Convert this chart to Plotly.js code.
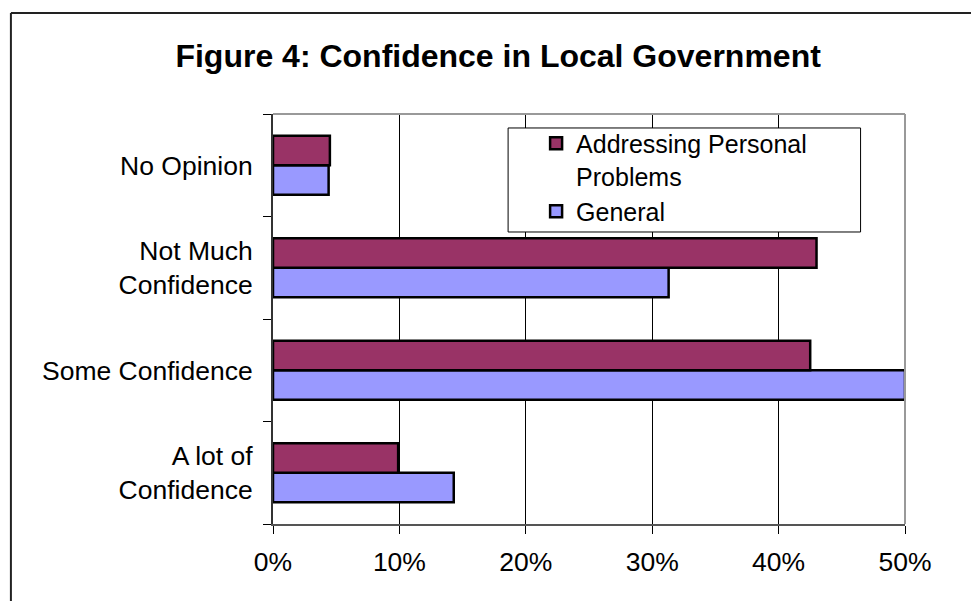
<!DOCTYPE html>
<html>
<head>
<meta charset="utf-8">
<script src="https://cdn.plot.ly/plotly-3.0.1.min.js"></script>
<style>html,body{margin:0;padding:0;background:#fff;}#chart{width:971px;height:601px;}</style>
</head>
<body>
<div id="chart"></div>
<script>
// Categories, bottom to top
var categories = ["A lot of<br>Confidence", "Some Confidence", "Not Much<br>Confidence", "No Opinion"];
// Percent values
var personalProblems = [9.9, 42.5, 43.0, 4.5];
var general = [14.3, 50.0, 31.3, 4.4];
var xTickVals = [0, 10, 20, 30, 40, 50];
var xTickText = ["0%", "10%", "20%", "30%", "40%", "50%"];
var seriesNames = ["Addressing Personal<br>Problems", "General"];

var FONT = "Liberation Sans, Arial, sans-serif";

var traces = [
  {
    type: "bar", orientation: "h", name: seriesNames[1],
    y: categories, x: general,
    marker: {color: "#9999FF", line: {color: "#000000", width: 2.5}},
    hoverinfo: "x+y"
  },
  {
    type: "bar", orientation: "h", name: seriesNames[0],
    y: categories, x: personalProblems,
    marker: {color: "#993366", line: {color: "#000000", width: 2.5}},
    hoverinfo: "x+y"
  }
];

var layout = {
  width: 971, height: 601,
  margin: {l: 272.5, r: 65.5, t: 114, b: 77, pad: 0},
  paper_bgcolor: "#ffffff", plot_bgcolor: "#ffffff",
  font: {family: FONT, size: 26.5, color: "#000000"},
  title: {
    text: "<b>Figure 4: Confidence in Local Government</b>",
    font: {family: FONT, size: 32, color: "#000000"},
    xref: "container", yref: "container",
    x: 0.513, xanchor: "center", y: 0.907, yanchor: "middle"
  },
  barmode: "group", bargap: 0.424, bargroupgap: 0,
  showlegend: true,
  legend: {
    traceorder: "reversed",
    x: 0.4163, xanchor: "left", y: 0.984, yanchor: "top",
    bgcolor: "rgba(0,0,0,0)", borderwidth: 0,
    font: {family: FONT, size: 25, color: "#000000"},
    valign: "top", tracegroupgap: 0, itemclick: false
  },
  xaxis: {
    range: [0, 50], tickvals: xTickVals, ticktext: xTickText,
    showgrid: true, gridcolor: "#000000", gridwidth: 1,
    zeroline: false, showline: true, linecolor: "#555555", linewidth: 2,
    ticks: "outside", ticklen: 8, tickcolor: "#000000", tickwidth: 1,
    ticklabelstandoff: 5,
    tickfont: {family: FONT, size: 26.5, color: "#000000"},
    fixedrange: true
  },
  yaxis: {
    type: "category", categoryorder: "array", categoryarray: categories,
    range: [-0.5, 3.5],
    showgrid: false, zeroline: false, showline: true, linecolor: "#333333", linewidth: 2,
    ticks: "outside", tickson: "boundaries", ticklen: 8, tickcolor: "#000000", tickwidth: 1,
    ticklabelstandoff: 13,
    tickfont: {family: FONT, size: 26.5, color: "#000000"},
    fixedrange: true
  },
  shapes: [
    // plot frame top and right (gray)
    {type: "line", xref: "paper", yref: "paper", x0: 0, x1: 1, y0: 1, y1: 1, line: {color: "#999999", width: 2}, layer: "above"},
    {type: "line", xref: "paper", yref: "paper", x0: 1, x1: 1, y0: 0, y1: 1, line: {color: "#999999", width: 2}, layer: "above"},
    // legend box
    {type: "rect", xref: "paper", yref: "paper", x0: 0.372, x1: 0.9297, y0: 0.7122, y1: 0.9659,
     fillcolor: "#ffffff", line: {color: "#000000", width: 1}, layer: "above"},
    // outer chart frame (cropped at right and bottom)
    {type: "line", xref: "paper", yref: "paper", x0: -0.4147, x1: -0.4147, y0: -0.3, y1: 1.2463, line: {color: "#222222", width: 2}, layer: "above"},
    {type: "line", xref: "paper", yref: "paper", x0: -0.4147, x1: 1.2, y0: 1.2463, y1: 1.2463, line: {color: "#222222", width: 2}, layer: "above"}
  ]
};

Plotly.newPlot("chart", traces, layout, {displayModeBar: false, staticPlot: true});
</script>
</body>
</html>
